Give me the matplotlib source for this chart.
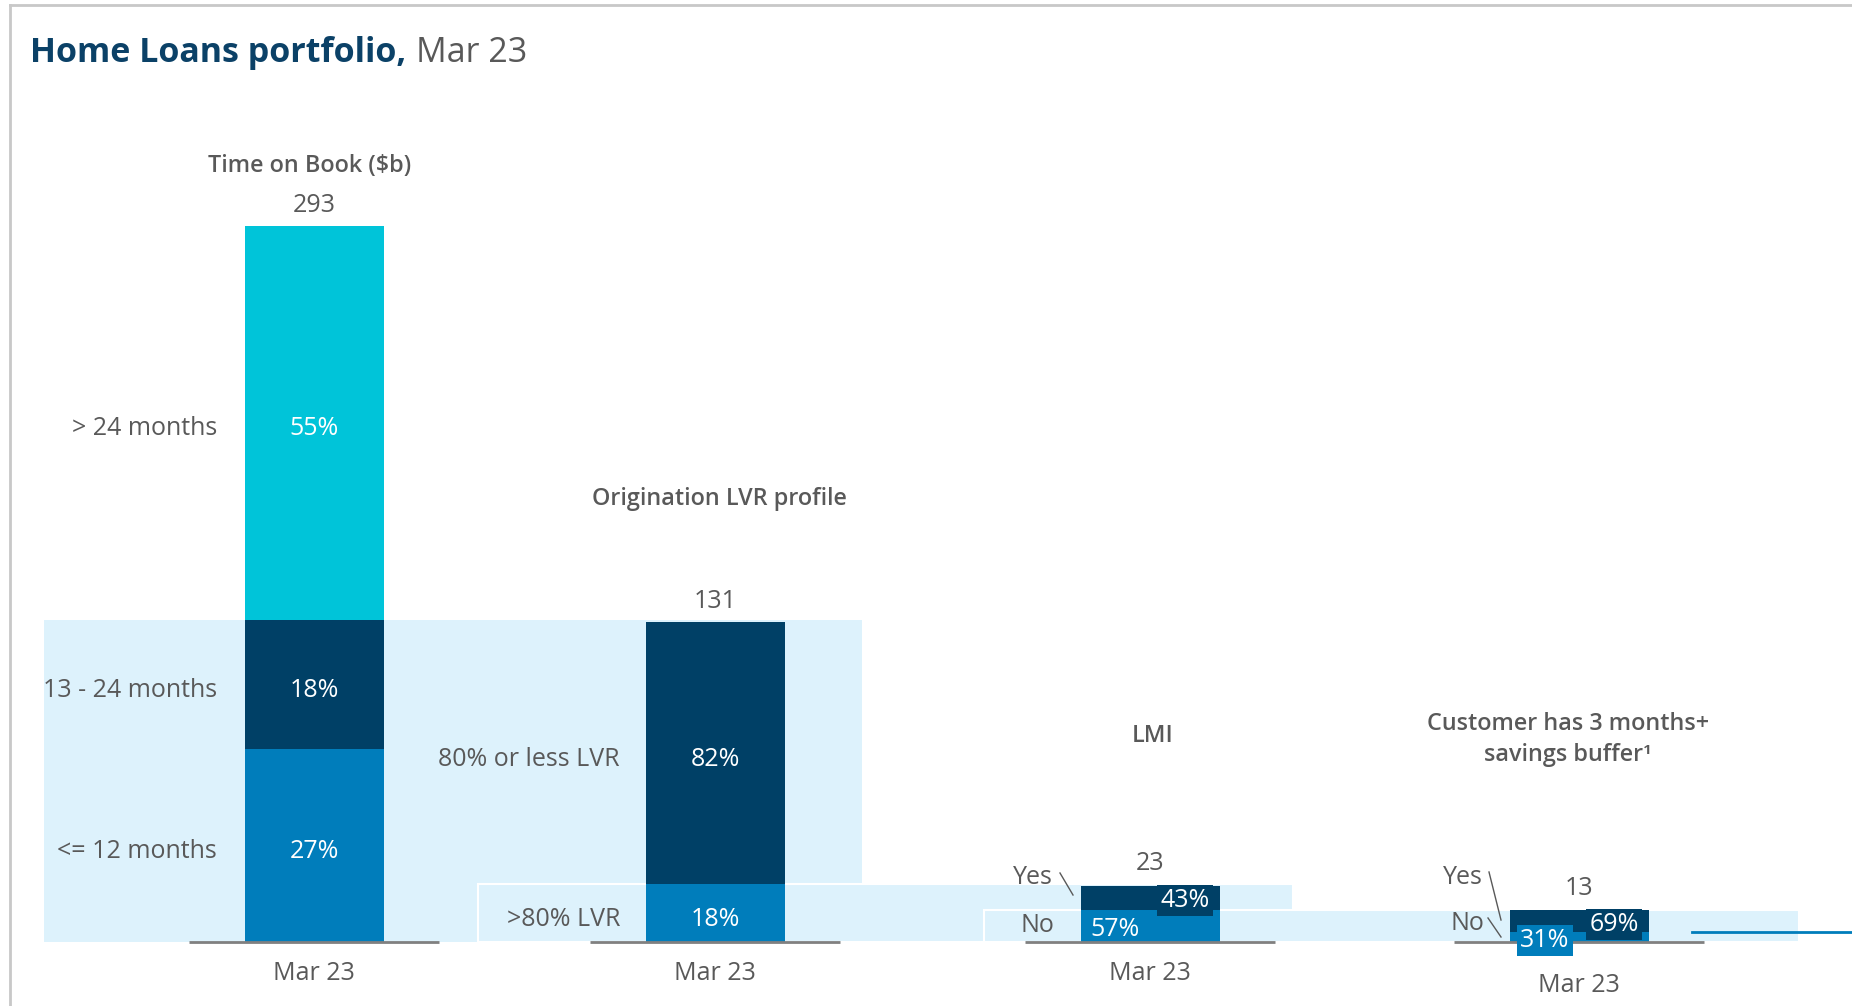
import matplotlib
matplotlib.use("Agg")
import matplotlib.pyplot as plt
from matplotlib.patches import Rectangle
from matplotlib.lines import Line2D
from matplotlib.transforms import offset_copy

plt.rcParams['font.family'] = ['Open Sans', 'DejaVu Sans']

# ---------------- data ----------------
title_main = "Home Loans portfolio,"
title_date = "Mar 23"
period = "Mar 23"
panel_titles = ["Time on Book ($b)", "Origination LVR profile", "LMI",
                "Customer has 3 months+", "savings buffer\u00b9"]
totals = [293, 131, 23, 13]

tob_labels = ["<= 12 months", "13 - 24 months", "> 24 months"]
tob_pct = [27, 18, 55]
lvr_labels = [">80% LVR", "80% or less LVR"]
lvr_pct = [18, 82]
lmi_labels = ["No", "Yes"]
lmi_pct = [57, 43]
buf_labels = ["No", "Yes"]
buf_pct = [31, 69]

# ---------------- style ----------------
CYAN = "#00C4D9"
NAVY = "#004066"
MID = "#007DBB"
LIGHT = "#DDF2FC"
GREY = "#595959"
TITLE_C = "#0B4167"
AXIS_C = "#808080"

W, H = 1852, 1006
fig = plt.figure(figsize=(W / 100, H / 100), dpi=100)
ax = fig.add_axes([0, 0, 1, 1])
ax.axis("off")

BASE_PX = 942          # baseline position (px from top)
TOP_PX = 226           # top of tallest bar (px from top)
k = (BASE_PX - TOP_PX) / max(totals)   # px per $b
ax.set_xlim(0, W)
ax.set_ylim(-(H - BASE_PX) / k, BASE_PX / k)


def yd(py):
    """pixel-from-top -> data y"""
    return (BASE_PX - py) / k


def tr(dy):
    """data transform shifted down by dy pixels"""
    return offset_copy(ax.transData, fig=fig, x=0, y=-dy, units="dots")


T6, T4, T3, T2 = tr(6), tr(4), tr(3), tr(2)

centers = [314, 715, 1150, 1579]
bar_w = 139
seg_colors = [[MID, NAVY, CYAN], [MID, NAVY], [MID, NAVY], [MID, NAVY]]
pcts = [tob_pct, lvr_pct, lmi_pct, buf_pct]

# ---------------- highlight rectangles ----------------
rect_x = [(44, 862), (478, 1293), (984, 1799)]
rect_h = [totals[0] * sum(tob_pct[:2]) / 100,
          totals[1] * lvr_pct[0] / 100,
          totals[2] * lmi_pct[0] / 100]
for i, ((x0, x1), h) in enumerate(zip(rect_x, rect_h)):
    ax.add_patch(Rectangle((x0, 0), x1 - x0, h, facecolor=LIGHT,
                           edgecolor="white" if i > 0 else "none",
                           linewidth=1.5, zorder=1 + i * 0.1))

# ---------------- bars ----------------
seg_mids = []
for i, (cx, tot, pc, cols) in enumerate(zip(centers, totals, pcts, seg_colors)):
    bottom = 0
    mids = []
    for p, c in zip(pc, cols):
        v = tot * p / 100
        ax.bar(cx, v, width=bar_w, bottom=bottom, color=c, zorder=3)
        mids.append(bottom + v / 2)
        bottom += v
    seg_mids.append(mids)
    # total label
    ax.annotate(f"{tot}", (cx, tot), xytext=(0, 15 if i < 2 else 16),
                textcoords="offset points",
                ha="center", va="center", fontsize=18, color=GREY, zorder=6)
    # baseline
    ax.plot([cx - 125, cx + 125], [0, 0], color=AXIS_C, lw=2, zorder=4,
            solid_capstyle="butt")

# category labels
for i, cx in enumerate(centers):
    py = 983 if i == 3 else 971
    ax.text(cx, yd(py), period, ha="center", va="center", fontsize=18,
            color=GREY, transform=T3)

# panel 1 & 2 segment labels
for j, (lab, p) in enumerate(zip(tob_labels, tob_pct)):
    ax.text(centers[0], seg_mids[0][j], f"{p}%", ha="center", va="center",
            fontsize=18, color="white", zorder=6, transform=T6)
    ax.text(217, seg_mids[0][j], lab, ha="right", va="center", fontsize=18,
            color=GREY, zorder=6, transform=T6)
for j, (lab, p) in enumerate(zip(lvr_labels, lvr_pct)):
    ax.text(centers[1], seg_mids[1][j], f"{p}%", ha="center", va="center",
            fontsize=18, color="white", zorder=6, transform=T6)
    ax.text(620, seg_mids[1][j], lab, ha="right", va="center", fontsize=18,
            color=GREY, zorder=6, transform=T6)

# panel 3 segment labels
box = lambda c: dict(boxstyle="square,pad=0.12", fc=c, ec="none")
ax.text(centers[2] - 35, seg_mids[2][0], f"{lmi_pct[0]}%", ha="center",
        va="center", fontsize=18, color="white", zorder=6, transform=T4)
ax.text(centers[2] + 35, seg_mids[2][1], f"{lmi_pct[1]}%", ha="center",
        va="center", fontsize=18, color="white", zorder=6, bbox=box(NAVY),
        transform=T3)
# panel 4 segment labels
ax.text(centers[3] - 34, seg_mids[3][0], f"{buf_pct[0]}%", ha="center",
        va="center", fontsize=18, color="white", zorder=6, bbox=box(MID),
        transform=T3)
ax.text(centers[3] + 35, seg_mids[3][1], f"{buf_pct[1]}%", ha="center",
        va="center", fontsize=18, color="white", zorder=7, bbox=box(NAVY),
        transform=T3)

# Yes / No labels with leader lines
ax.text(1033, yd(874), lmi_labels[1], ha="center", va="center", fontsize=18,
        color=GREY, transform=T4)
ax.text(1037, yd(921), lmi_labels[0], ha="center", va="center", fontsize=18,
        color=GREY, transform=T4)
ax.plot([1060, 1073], [yd(873), yd(895)], color=GREY, lw=1, zorder=5)

ax.text(1463, yd(873), buf_labels[1], ha="center", va="center", fontsize=18,
        color=GREY, transform=T4)
ax.text(1467, yd(920), buf_labels[0], ha="center", va="center", fontsize=18,
        color=GREY, transform=T4)
ax.plot([1489, 1501], [yd(872), yd(920)], color=GREY, lw=1, zorder=5)
ax.plot([1488, 1501], [yd(918), yd(937)], color=GREY, lw=1, zorder=5)

# continuation line in panel 4
ax.plot([1692, W], [totals[3] * buf_pct[0] / 100] * 2, color=MID, lw=2, zorder=5)

# panel titles
PT = 16.8
ax.text(310, yd(163), panel_titles[0], ha="center", va="center", fontsize=PT,
        color=GREY, fontweight="semibold", transform=T3)
ax.text(719, yd(496), panel_titles[1], ha="center", va="center", fontsize=PT,
        color=GREY, fontweight="semibold", transform=T3)
ax.text(1153, yd(733), panel_titles[2], ha="center", va="center", fontsize=PT,
        color=GREY, fontweight="semibold", transform=T3)
ax.text(1568, yd(721), panel_titles[3], ha="center", va="center", fontsize=PT,
        color=GREY, fontweight="semibold", transform=T3)
ax.text(1568, yd(752), panel_titles[4], ha="center", va="center", fontsize=PT,
        color=GREY, fontweight="semibold", transform=T3)

# main title
t1 = fig.text(30 / W, 1 - 53 / H, title_main, ha="left", va="center",
              fontsize=24.5, fontweight="bold", color=TITLE_C)
ax.annotate(title_date, xy=(1, 0.5), xycoords=t1, xytext=(7, 0),
            textcoords="offset points", ha="left", va="center",
            fontsize=24.5, color=GREY)

# frame lines
fig.add_artist(Line2D([10 / W, 1], [1 - 5 / H, 1 - 5 / H], color="#C8C8C8", lw=2,
                      transform=fig.transFigure))
fig.add_artist(Line2D([10 / W, 10 / W], [0, 1 - 5 / H], color="#C8C8C8", lw=2,
                      transform=fig.transFigure))

fig.savefig("out.png", dpi=100)
